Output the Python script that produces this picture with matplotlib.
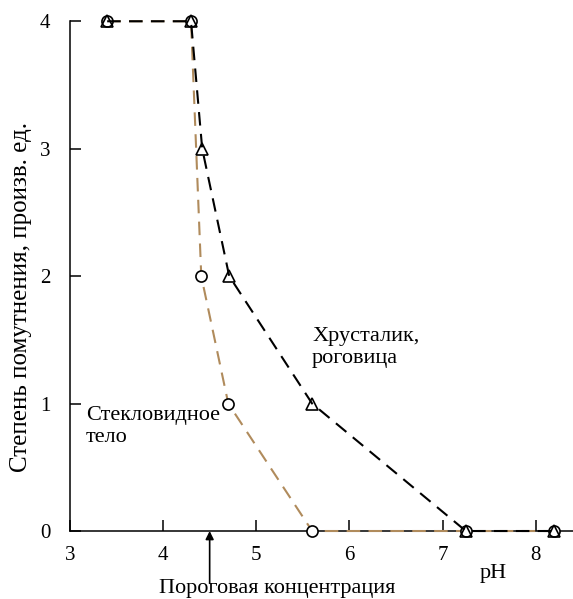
import matplotlib.pyplot as plt

plt.rcParams["font.family"] = ["Liberation Serif", "DejaVu Serif"]

# Хрусталик, роговица (треугольники)
ph_lens = [3.4, 4.3, 4.42, 4.71, 5.6, 7.25, 8.2]
deg_lens = [4, 4, 3, 2, 1, 0, 0]

# Стекловидное тело (кружки)
ph_vit = [3.4, 4.3, 4.41, 4.70, 5.6, 7.25, 8.2]
deg_vit = [4, 4, 2, 1, 0, 0, 0]

threshold_ph = 4.5

fig = plt.figure(figsize=(5.73, 5.99), dpi=100)
ax = fig.add_axes([0.122, 0.1135, 0.878, 0.851])

brown = "#b08b5c"
dash = (0, (6.5, 4))
ax.plot(ph_vit, deg_vit, color=brown, ls=dash, lw=1.5,
        marker="o", ms=8, mfc="white", mec="black", mew=1.2, clip_on=False, zorder=3)
ax.plot(ph_lens, deg_lens, color="black", ls=dash, lw=1.5,
        marker="^", ms=9, mfc="none", mec="black", mew=1.2, clip_on=False, zorder=4)

ax.set_xlim(3, 8.4)
ax.set_ylim(0, 4)
ax.set_xticks([3, 4, 5, 6, 7, 8])
ax.set_yticks([0, 1, 2, 3, 4])
ax.spines["top"].set_visible(False)
ax.spines["right"].set_visible(False)
for s in ("left", "bottom"):
    ax.spines[s].set_linewidth(1.1)
ax.tick_params(direction="in", length=8, width=1.1, labelsize=15)
ax.tick_params(axis="y", pad=14)
ax.tick_params(axis="x", pad=11)

ax.set_ylabel("Степень помутнения, произв. ед.", fontsize=18)
ax.yaxis.set_label_coords(-0.076, 0.46)
ax.text(7.54, -0.33, "pH", fontsize=16, ha="center", va="center")

ax.annotate("", xy=(threshold_ph, 0), xytext=(threshold_ph, -0.41),
            arrowprops=dict(arrowstyle="-|>", color="black", lw=1.2,
                            mutation_scale=12, shrinkA=0, shrinkB=0),
            annotation_clip=False)
ax.text(5.22, -0.45, "Пороговая концентрация", fontsize=16,
        ha="center", va="center")

ax.text(5.6, 1.44, "Хрусталик,\nроговица", fontsize=16,
        ha="left", va="center", linespacing=1.2)
ax.text(3.17, 0.82, "Стекловидное\nтело", fontsize=16,
        ha="left", va="center", linespacing=1.2)

fig.savefig("out.png", dpi=100)
